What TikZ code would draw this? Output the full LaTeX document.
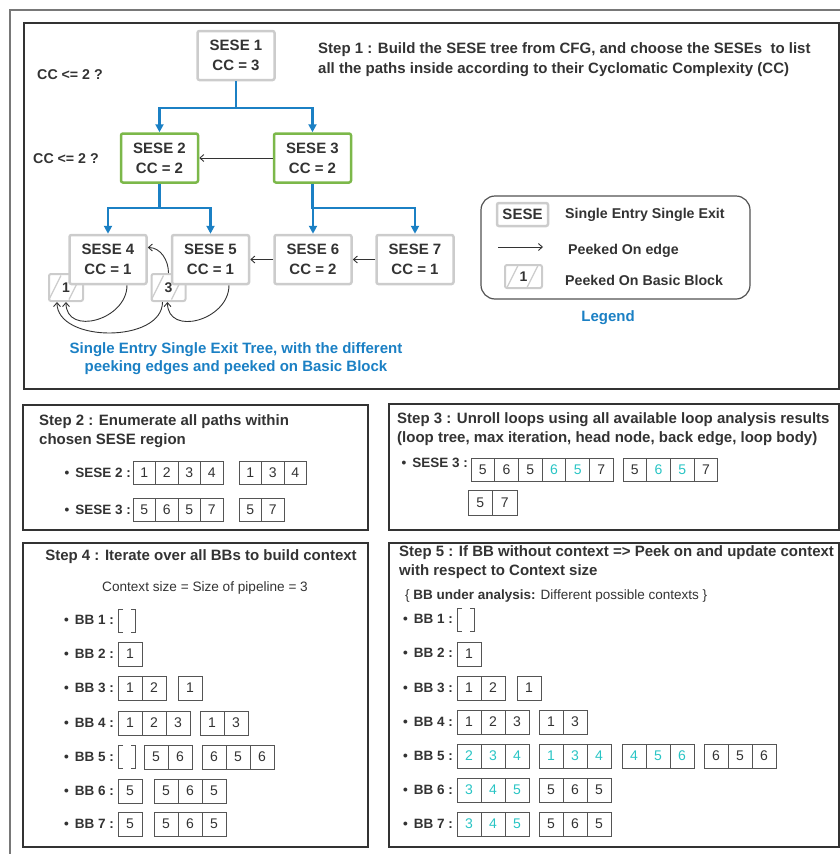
\documentclass[tikz,border=0pt]{standalone}
\usepackage{fontspec}
\setmainfont{Liberation Sans}
\usetikzlibrary{arrows.meta}
\definecolor{txt}{RGB}{51,51,51}
\definecolor{treeblue}{RGB}{27,128,196}
\definecolor{chosengreen}{RGB}{124,184,74}
\definecolor{sesegray}{RGB}{204,204,204}
\definecolor{peekteal}{RGB}{40,196,196}
\definecolor{cellline}{RGB}{85,85,85}
\definecolor{framegray}{RGB}{120,120,120}

\newcommand{\pk}[1]{\textcolor{peekteal}{#1}}
% [cell width]{name}{left x}{y}{values}
\newcommand{\ctxrow}[5][24]{%
  \foreach \v [count=\k from 0] in {#5}
    \node[cell, minimum size=#1pt] (#2-\k) at ({#3+(\k+0.5)*#1}, #4) {\v};}

\tikzset{
  sese/.style={draw=sesegray, line width=2.5pt, rounded corners=2pt, fill=white, minimum width=77pt, minimum height=49pt, align=center, text=txt, font=\bfseries\fontsize{15}{20}\selectfont},
  chosen/.style={sese, draw=chosengreen},
  peekbb/.style={draw=sesegray, line width=2pt, rounded corners=2pt, fill=white, text=txt, inner sep=0pt, font=\bfseries\fontsize{14}{14}\selectfont,
    path picture={\draw[sesegray, line width=1.3pt] ([shift={(-17pt,-12pt)}]path picture bounding box.center) -- ++(12pt,24pt) ([shift={(3pt,-12pt)}]path picture bounding box.center) -- ++(12pt,24pt);}},
  tree/.style={draw=treeblue, line width=2.2pt, -{Triangle[length=8pt,width=8pt]}},
  peek/.style={draw=txt, line width=0.9pt, -{Straight Barb[length=4pt,width=7pt]}},
  panel/.style={draw=txt, line width=1.4pt},
  cell/.style={draw=cellline, line width=1pt, inner sep=0pt, text=txt, font=\fontsize{14}{14}\selectfont},
  nocontext/.style={minimum width=18pt, minimum height=24pt, inner sep=0pt, fill=white,
    path picture={\draw[cellline, line width=1pt]
      ([shift={(5pt,-0.5pt)}]path picture bounding box.north west) -| ([shift={(0.5pt,0.5pt)}]path picture bounding box.south west) -- ++(4.5pt,0)
      ([shift={(-5pt,-0.5pt)}]path picture bounding box.north east) -| ([shift={(-0.5pt,0.5pt)}]path picture bounding box.south east) -- ++(-4.5pt,0);}},
  steptitle/.style={text=txt, inner sep=0pt, align=left, font=\bfseries\fontsize{15}{19}\selectfont},
  bullet/.style={text=txt, inner sep=0pt, anchor=east, font=\bfseries\fontsize{13.5}{16}\selectfont},
  note/.style={text=txt, inner sep=0pt, font=\bfseries\fontsize{14.2}{17}\selectfont},
  caption/.style={text=treeblue, inner sep=0pt, align=center, font=\bfseries\fontsize{15}{18}\selectfont},
}

\begin{document}
\begin{tikzpicture}[x=1pt, y=1pt]
    \useasboundingbox (0,0) rectangle (840,-854);
    \draw[framegray, line width=2pt] (10,-854) -- (10,-9.5) -- (840,-9.5);

    % panels
    \draw[panel] (24,-23) rectangle (839,-389);
    \draw[panel] (23,-405) rectangle (368,-530);
    \draw[panel] (389,-404) rectangle (839,-530);
    \draw[panel] (23,-543) rectangle (368,-847);
    \draw[panel] (389,-543) rectangle (839,-847);

    % step 1 : SESE tree
    \node[steptitle, anchor=west, font=\bfseries\fontsize{15}{20}\selectfont] (s1title) at (318,-60) {Step 1 : Build the SESE tree from CFG, and choose the SESEs~ to list\\all the paths inside according to their Cyclomatic Complexity (CC)};
    \node[note] (cc1) at (70,-75) {CC <= 2 ?};
    \node[note] (cc2) at (66,-159) {CC <= 2 ?};

    \node[peekbb, minimum width=34pt, minimum height=27pt] (bb1) at ( 66,-287.5) {1};
    \node[peekbb, minimum width=34pt, minimum height=27pt] (bb3) at (168.5,-287.5) {3};

    \node[sese  ] (sese1) at (236,  -55.5) {SESE 1\\CC = 3};
    \node[chosen] (sese2) at (159.5,-158 ) {SESE 2\\CC = 2};
    \node[chosen] (sese3) at (312.5,-158 ) {SESE 3\\CC = 2};
    \node[sese  ] (sese4) at (108,  -259.5) {SESE 4\\CC = 1};
    \node[sese  ] (sese5) at (210.5,-259.5) {SESE 5\\CC = 1};
    \node[sese  ] (sese6) at (313,  -259.5) {SESE 6\\CC = 2};
    \node[sese  ] (sese7) at (415,  -259.5) {SESE 7\\CC = 1};

    \draw[tree] (sese1.south) -- ++(0,-27) coordinate (fork1) -| (sese2.north);
    \draw[tree] (fork1) -| (sese3.north);
    \draw[tree] (sese2.south) -- ++(0,-24) coordinate (fork2) -| (sese4.north);
    \draw[tree] (fork2) -| (sese5.north);
    \draw[tree] (sese3.south) -- ++(0,-24) coordinate (fork3) -| (sese6.north);
    \draw[tree] (fork3) -| (sese7.north);

    \draw[peek] (sese3) -- (sese2);
    \draw[peek] (sese7) -- (sese6);
    \draw[peek] (sese6) -- (sese5);
    \draw[peek] ([xshift=19pt]sese4.south) to[out=-90, in=-90, looseness=1.4] (bb1.south);
    \draw[peek] ([xshift=18.5pt]sese5.south) to[out=-90, in=-90, looseness=1.4] ([xshift=-1pt]bb3.south);
    \draw[peek] ([xshift=-6pt]bb3.south) to[out=-90, in=-90, looseness=1] ([xshift=-9pt]bb1.south);
    \draw[peek] (bb3.north) to[out=90, in=0] ([yshift=12pt]sese4.east);

    \node[caption] (treecap) at (236,-359) {Single Entry Single Exit Tree, with the different\\peeking edges and peeked on Basic Block};

    % legend
    \node[draw=txt!85, line width=1.2pt, rounded corners=14pt, minimum width=269pt, minimum height=103pt] (legend) at (615.5,-247.5) {};
    \node[sese, minimum width=51pt, minimum height=23pt, inner sep=0pt] (lsese) at (522.5,-214.5) {SESE};
    \node[note, anchor=west] (lsesetxt) at (565,-215) {Single Entry Single Exit};
    \coordinate (larrowa) at (498,-247);
    \coordinate (larrowb) at (543,-247);
    \draw[peek] (larrowa) -- (larrowb);
    \node[note, anchor=west] (ledgetxt) at (568,-251) {Peeked On edge};
    \node[peekbb, minimum width=37pt, minimum height=23pt] (lbb) at (523.5,-276.5) {1};
    \node[note, anchor=west] (lbbtxt) at (565,-280) {Peeked On Basic Block};
    \node[caption] (legendcap) at (608,-318) {Legend};

    % step 2
    \node[steptitle, anchor=west] (s2title) at (39,-431) {Step 2 : Enumerate all paths within\\chosen SESE region};
    \node[bullet] (s2r1) at (131,-473) {\textbullet\hspace{6pt}SESE 2 :};
    \ctxrow[22.5]{s2a}{133}{-473}{1,2,3,4}
    \ctxrow[22.5]{s2b}{239}{-473}{1,3,4}
    \node[bullet] (s2r2) at (131,-510) {\textbullet\hspace{6pt}SESE 3 :};
    \ctxrow[22.5]{s2c}{133}{-510}{5,6,5,7}
    \ctxrow[22.5]{s2d}{239}{-510}{5,7}

    % step 3
    \node[steptitle, anchor=west] (s3title) at (397,-429) {Step 3 : Unroll loops using all available loop analysis results\\(loop tree, max iteration, head node, back edge, loop body)};
    \node[bullet] (s3r1) at (468,-463) {\textbullet\hspace{6pt}SESE 3 :};
    \ctxrow[23.7]{s3a}{471}{-470}{5,6,5,\pk{6},\pk{5},7}
    \ctxrow[23.7]{s3b}{623}{-470}{5,\pk{6},\pk{5},7}
    \ctxrow[24.5]{s3c}{468}{-503}{5,7}

    % step 4
    \node[steptitle] (s4title) at (201,-557) {Step 4 : Iterate over all BBs to build context};
    \node[text=txt, inner sep=0pt, font=\fontsize{13.6}{13.6}\selectfont] (s4size) at (205,-588) {Context size = Size of pipeline = 3};
    \node[bullet] (s4r1) at (114,-620) {\textbullet\hspace{6pt}BB 1 :};
    \node[nocontext] (s4bb1) at (127,-620.5) {};
    \node[bullet] (s4r2) at (114,-654) {\textbullet\hspace{6pt}BB 2 :};
    \ctxrow{s4bb2}{118}{-654}{1}
    \node[bullet] (s4r3) at (114,-688) {\textbullet\hspace{6pt}BB 3 :};
    \ctxrow{s4bb3a}{118}{-688}{1,2}
    \ctxrow{s4bb3b}{178}{-688}{1}
    \node[bullet] (s4r4) at (114,-723) {\textbullet\hspace{6pt}BB 4 :};
    \ctxrow{s4bb4a}{118}{-723}{1,2,3}
    \ctxrow{s4bb4b}{200}{-723}{1,3}
    \node[bullet] (s4r5) at (114,-757) {\textbullet\hspace{6pt}BB 5 :};
    \node[nocontext] (s4bb5) at (127,-757) {};
    \ctxrow{s4bb5a}{144}{-757}{5,6}
    \ctxrow{s4bb5b}{202}{-757}{6,5,6}
    \node[bullet] (s4r6) at (114,-791) {\textbullet\hspace{6pt}BB 6 :};
    \ctxrow{s4bb6a}{118}{-791}{5}
    \ctxrow{s4bb6b}{154}{-791}{5,6,5}
    \node[bullet] (s4r7) at (114,-824) {\textbullet\hspace{6pt}BB 7 :};
    \ctxrow{s4bb7a}{118}{-824}{5}
    \ctxrow{s4bb7b}{154}{-824}{5,6,5}

    % step 5
    \node[steptitle, anchor=west] (s5title) at (399,-562.5) {Step 5 : If BB without context => Peek on and update context\\with respect to Context size};
    \node[text=txt, anchor=west, inner sep=0pt, font=\fontsize{13.5}{13.5}\selectfont] (s5key) at (405,-596) {\{ \textbf{BB under analysis:} Different possible contexts \}};
    \node[bullet] (s5r1) at (453,-619) {\textbullet\hspace{6pt}BB 1 :};
    \node[nocontext] (s5bb1) at (466,-619.5) {};
    \node[bullet] (s5r2) at (453,-653) {\textbullet\hspace{6pt}BB 2 :};
    \ctxrow{s5bb2}{457}{-654}{1}
    \node[bullet] (s5r3) at (453,-688) {\textbullet\hspace{6pt}BB 3 :};
    \ctxrow{s5bb3a}{457}{-688}{1,2}
    \ctxrow{s5bb3b}{517}{-688}{1}
    \node[bullet] (s5r4) at (453,-722) {\textbullet\hspace{6pt}BB 4 :};
    \ctxrow{s5bb4a}{457}{-722}{1,2,3}
    \ctxrow{s5bb4b}{539}{-722}{1,3}
    \node[bullet] (s5r5) at (453,-756) {\textbullet\hspace{6pt}BB 5 :};
    \ctxrow{s5bb5a}{457}{-756}{\pk{2},\pk{3},\pk{4}}
    \ctxrow{s5bb5b}{539}{-756}{\pk{1},\pk{3},\pk{4}}
    \ctxrow{s5bb5c}{622}{-756}{\pk{4},\pk{5},\pk{6}}
    \ctxrow{s5bb5d}{704}{-756}{6,5,6}
    \node[bullet] (s5r6) at (453,-790) {\textbullet\hspace{6pt}BB 6 :};
    \ctxrow{s5bb6a}{457}{-790}{\pk{3},\pk{4},\pk{5}}
    \ctxrow{s5bb6b}{539}{-790}{5,6,5}
    \node[bullet] (s5r7) at (453,-824) {\textbullet\hspace{6pt}BB 7 :};
    \ctxrow{s5bb7a}{457}{-824}{\pk{3},\pk{4},\pk{5}}
    \ctxrow{s5bb7b}{539}{-824}{5,6,5}
\end{tikzpicture}
\end{document}
